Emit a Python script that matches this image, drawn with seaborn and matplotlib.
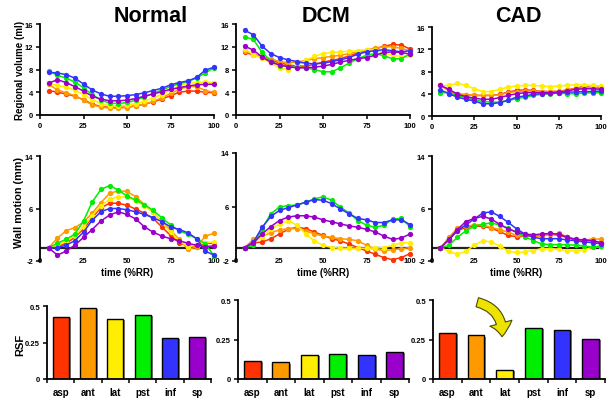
import numpy as np
import pandas as pd
import matplotlib
matplotlib.use('Agg')
import matplotlib.pyplot as plt
import matplotlib.patheffects as pe
import seaborn as sns

sns.set_theme(style='ticks')
plt.rcParams['font.family'] = ['Liberation Sans', 'DejaVu Sans']
plt.rcParams['font.weight'] = 'bold'
plt.rcParams['axes.unicode_minus'] = False
plt.rcParams['text.color'] = 'black'
plt.rcParams['axes.labelcolor'] = 'black'
plt.rcParams['xtick.color'] = 'black'
plt.rcParams['ytick.color'] = 'black'

# 数据
segments = ['asp', 'ant', 'lat', 'pst', 'inf', 'sp']
colors = ['#FF3300', '#FF9900', '#FFEE00', '#00EE00', '#3333FF', '#9900CC']
groups = ['Normal', 'DCM', 'CAD']
time = [5, 10, 15, 20, 25, 30, 35, 40, 45, 50, 55, 60, 65, 70, 75, 80, 85, 90, 95, 100]

# regional volume (ml), order asp, ant, lat, pst, inf, sp
vol_normal = [
    [4.3, 4.0, 3.7, 3.3, 2.7, 1.9, 1.5, 1.35, 1.35, 1.4, 1.6, 1.9, 2.3, 2.8, 3.4, 4.0, 4.2, 4.2, 4.0, 3.9],
    [5.4, 4.4, 3.9, 3.4, 2.6, 1.8, 1.4, 1.2, 1.2, 1.3, 1.6, 1.9, 2.4, 3.0, 3.8, 4.5, 5.0, 5.0, 4.3, 4.0],
    [5.6, 5.2, 4.9, 4.4, 3.6, 2.7, 2.0, 1.6, 1.6, 1.7, 2.0, 2.4, 3.0, 3.6, 4.4, 5.1, 5.6, 5.7, 5.8, 5.7],
    [7.7, 7.0, 6.5, 5.8, 4.8, 3.6, 2.6, 2.1, 2.0, 2.2, 2.6, 3.2, 3.8, 4.4, 5.0, 5.5, 5.9, 6.5, 7.4, 8.3],
    [7.5, 7.4, 7.1, 6.5, 5.45, 4.4, 3.7, 3.3, 3.3, 3.4, 3.6, 3.9, 4.3, 4.7, 5.3, 5.7, 6.0, 6.6, 7.9, 8.4],
    [5.6, 6.2, 5.7, 5.0, 4.2, 3.3, 2.8, 2.5, 2.5, 2.6, 2.9, 3.3, 3.7, 4.1, 4.5, 4.8, 5.1, 5.3, 5.4, 5.4],
]
vol_dcm = [
    [11.0, 10.6, 10.3, 9.6, 9.2, 8.8, 8.6, 8.6, 8.9, 9.3, 9.6, 9.9, 10.4, 10.9, 11.3, 11.6, 12.1, 12.4, 12.3, 11.6],
    [11.3, 10.7, 10.1, 9.9, 9.4, 9.2, 9.3, 9.6, 9.9, 10.1, 10.3, 10.5, 10.8, 11.1, 11.4, 11.8, 12.0, 12.0, 11.7, 11.3],
    [11.6, 10.6, 10.0, 9.1, 8.3, 8.0, 8.7, 9.6, 10.3, 10.8, 11.0, 11.1, 11.2, 11.3, 11.5, 11.4, 10.9, 10.5, 10.3, 10.6],
    [13.7, 13.3, 11.0, 9.5, 8.7, 8.5, 8.4, 8.3, 8.0, 7.6, 7.6, 8.3, 9.1, 9.9, 10.5, 10.8, 10.4, 9.9, 9.9, 10.7],
    [14.9, 14.1, 12.1, 10.8, 10.1, 9.7, 9.4, 9.1, 9.0, 9.1, 9.4, 9.7, 10.1, 10.7, 11.1, 11.3, 11.5, 11.3, 11.1, 11.3],
    [12.1, 11.4, 10.2, 9.3, 8.8, 8.5, 8.3, 8.3, 8.4, 8.6, 8.9, 9.3, 9.6, 9.9, 10.1, 10.5, 11.0, 11.1, 11.0, 10.7],
]
vol_cad = [
    [5.5, 4.6, 4.0, 3.8, 3.7, 3.7, 3.7, 3.9, 4.3, 4.6, 4.7, 4.6, 4.4, 4.4, 4.4, 4.7, 5.0, 5.3, 5.1, 5.2],
    [5.6, 4.5, 4.0, 3.8, 3.7, 3.7, 3.7, 3.8, 4.2, 4.4, 4.5, 4.5, 4.4, 4.4, 4.5, 4.6, 4.9, 5.1, 5.1, 5.0],
    [5.5, 5.5, 5.9, 5.5, 4.9, 4.4, 4.4, 4.8, 5.2, 5.4, 5.5, 5.5, 5.4, 5.3, 5.4, 5.5, 5.6, 5.6, 5.5, 5.4],
    [4.2, 4.2, 3.7, 3.3, 2.9, 2.6, 2.5, 2.5, 2.8, 3.1, 3.4, 3.7, 3.9, 4.0, 4.1, 4.0, 4.0, 4.1, 4.2, 4.2],
    [4.7, 4.0, 3.4, 3.0, 2.7, 2.2, 2.2, 2.4, 2.8, 3.4, 3.6, 3.9, 4.0, 4.1, 4.2, 4.3, 4.3, 4.4, 4.4, 4.5],
    [5.5, 4.8, 3.9, 3.5, 3.2, 3.0, 3.0, 3.3, 3.7, 4.0, 4.2, 4.2, 4.2, 4.2, 4.3, 4.5, 4.8, 4.9, 4.9, 4.8],
]

# wall motion (mm)
wm_normal = [
    [0, 0.2, 0.7, 1.6, 2.9, 4.6, 6.1, 6.8, 6.8, 6.5, 5.9, 5.3, 4.5, 3.2, 1.9, 0.8, 0.3, 0.2, 0.7, 0.7],
    [0, 1.5, 2.6, 3.1, 3.9, 5.3, 6.9, 8.3, 8.7, 8.6, 7.8, 6.6, 5.4, 4.0, 2.7, 1.3, -0.2, 0.1, 1.8, 2.2],
    [0, 0.3, 1.1, 1.8, 3.2, 4.9, 6.4, 7.4, 7.8, 7.7, 7.2, 6.4, 5.4, 3.9, 2.4, 1.1, 0.2, 0.4, 0.8, 0.9],
    [0, 0.7, 1.3, 2.1, 4.1, 7.0, 8.9, 9.5, 8.8, 7.9, 7.3, 6.6, 5.7, 4.6, 3.5, 2.6, 2.1, 1.4, 0.6, -1.2],
    [0, 0.05, 0.4, 1.1, 2.4, 4.2, 5.5, 6.0, 6.0, 5.8, 5.5, 5.1, 4.6, 4.0, 3.2, 2.8, 2.3, 1.4, -0.5, -1.1],
    [0, -1.1, -0.5, 0.4, 1.6, 2.8, 4.1, 5.0, 5.5, 5.1, 4.4, 3.2, 2.4, 1.8, 1.4, 1.1, 0.7, 0.4, 0.2, 0.3],
]
wm_dcm = [
    [0, 0.7, 0.8, 1.3, 2.0, 2.7, 3.0, 2.8, 2.3, 1.8, 1.3, 1.0, 0.5, 0.0, -0.5, -1.0, -1.5, -1.8, -1.5, -0.9],
    [0, 1.2, 1.6, 2.2, 2.6, 2.8, 2.8, 2.5, 2.0, 1.7, 1.5, 1.3, 1.2, 1.0, 0.3, -0.2, -0.5, -0.3, -0.2, 0.0],
    [0, 0.7, 1.5, 2.7, 3.5, 4.0, 3.3, 2.0, 1.0, 0.3, 0.0, -0.1, -0.1, -0.1, -0.1, -0.1, 0.0, 0.3, 0.7, 0.7],
    [0, 0.3, 2.8, 5.0, 6.0, 6.2, 6.3, 6.7, 7.2, 7.5, 7.0, 6.0, 5.1, 4.0, 3.3, 3.0, 3.3, 4.2, 4.3, 3.1],
    [0, 0.8, 3.0, 4.6, 5.5, 5.9, 6.3, 6.7, 7.1, 7.0, 6.5, 5.7, 5.0, 4.3, 4.1, 3.7, 3.7, 4.1, 4.1, 3.4],
    [0, 0.7, 2.0, 3.1, 4.0, 4.5, 4.7, 4.7, 4.5, 4.1, 3.8, 3.5, 3.2, 3.0, 2.7, 2.3, 1.7, 1.2, 1.4, 2.0],
]
wm_cad = [
    [0, 1.3, 2.6, 3.1, 3.3, 3.3, 3.0, 2.5, 1.9, 1.7, 1.8, 1.8, 1.9, 2.1, 1.9, 1.6, 1.2, 1.1, 1.1, 0.8],
    [0, 1.6, 3.0, 3.3, 3.5, 3.5, 3.1, 2.8, 2.4, 1.9, 1.8, 1.8, 1.8, 2.1, 2.2, 1.7, 1.3, 1.1, 1.4, 1.3],
    [0, -0.5, -1.0, -0.5, 0.4, 1.1, 0.9, 0.3, -0.5, -0.7, -0.6, -0.4, -0.1, -0.1, -0.2, -0.4, -0.5, -0.3, 0.1, 0.2],
    [0, 0.4, 1.6, 2.6, 3.3, 3.6, 3.8, 3.5, 3.0, 2.4, 1.7, 1.1, 0.6, 0.5, 0.5, 0.5, 0.4, 0.3, 0.1, 0.3],
    [0, 1.3, 2.6, 3.5, 4.4, 5.3, 5.5, 4.8, 3.9, 2.9, 2.1, 1.6, 1.4, 1.4, 1.4, 1.2, 1.1, 0.9, 0.8, 0.6],
    [0, 1.2, 2.8, 4.0, 4.5, 4.8, 4.4, 3.6, 2.9, 2.4, 2.1, 2.0, 2.1, 2.2, 2.1, 1.6, 1.3, 1.2, 1.1, 0.8],
]

# regional shortening fraction
rsf_normal = [0.427, 0.486, 0.414, 0.441, 0.284, 0.291]
rsf_dcm = [0.112, 0.105, 0.150, 0.160, 0.152, 0.169]
rsf_cad = [0.289, 0.276, 0.055, 0.325, 0.308, 0.255]

W, H = 610, 402
fig = plt.figure(figsize=(W / 100, H / 100), dpi=100)


def px_axes(l, t, r, b):
    return fig.add_axes([l / W, 1 - b / H, (r - l) / W, (b - t) / H])


def long_df(series):
    rows = []
    for seg, vals in zip(segments, series):
        for t, v in zip(time, vals):
            rows.append({'time': t, 'value': v, 'segment': seg})
    return pd.DataFrame(rows)


def style_axis(ax):
    for s in ['top', 'right']:
        ax.spines[s].set_visible(False)
    for s in ['left', 'bottom']:
        ax.spines[s].set_linewidth(1.3)
        ax.spines[s].set_color('black')
    ax.tick_params(axis='both', labelsize=5.5, width=1.1, length=3, color='black',
                   labelcolor='black', pad=2)
    ax.set_xlabel('')
    ax.set_ylabel('')
    ax.set_facecolor('none')
    for lab in ax.get_xticklabels() + ax.get_yticklabels():
        lab.set_fontweight('bold')


line_kw = dict(x='time', y='value', hue='segment', hue_order=segments, palette=colors,
               marker='o', markersize=3.8, markeredgewidth=0, linewidth=1.1,
               legend=False, clip_on=False)

# 第一行: regional volume
vol_rects = [(40, 25, 214, 116), (236, 25, 410, 116), (432, 28, 601, 117)]
for data, rect in zip([vol_normal, vol_dcm, vol_cad], vol_rects):
    ax = px_axes(*rect)
    sns.lineplot(data=long_df(data), ax=ax, **line_kw)
    ax.set_xlim(0, 100)
    ax.set_ylim(0, 16)
    ax.set_xticks([0, 25, 50, 75, 100])
    ax.set_yticks([0, 4, 8, 12, 16])
    style_axis(ax)

# 第二行: wall motion
wm_rects = [(40, 157, 214, 262), (236, 154, 410, 262), (432, 157, 601, 262)]
for data, rect in zip([wm_normal, wm_dcm, wm_cad], wm_rects):
    ax = px_axes(*rect)
    ax.axhline(0, color='#222222', linewidth=1.6, zorder=1)
    sns.lineplot(data=long_df(data), ax=ax, **line_kw)
    ax.set_xlim(0, 100)
    ax.set_ylim(-2, 14)
    ax.set_xticks([0, 25, 50, 75, 100])
    ax.set_yticks([-2, 6, 14])
    style_axis(ax)
    ax.spines['bottom'].set_visible(False)
    ax.tick_params(axis='x', length=0, pad=-3)
    ax.set_xlabel('time (%RR)', fontsize=7, fontweight='bold', labelpad=2, color='black')

# 第三行: RSF bars
rsf_rects = [(47, 307, 211, 380), (238, 301, 409, 380), (433, 301, 605, 380)]
bar_axes = []
for data, rect in zip([rsf_normal, rsf_dcm, rsf_cad], rsf_rects):
    ax = px_axes(*rect)
    sns.barplot(x=segments, y=data, hue=segments, palette=colors, legend=False,
                edgecolor='black', linewidth=1.0, width=0.58, saturation=1, ax=ax)
    for p in ax.patches:
        p.set_path_effects([pe.SimplePatchShadow(offset=(1.5, -0.8), shadow_rgbFace='#777777', alpha=0.9),
                            pe.Normal()])
    ax.set_xlim(-0.5, 5.5)
    ax.set_ylim(0, 0.5)
    ax.set_yticks([0, 0.25, 0.5])
    ax.set_yticklabels(['0', '0.25', '0.5'])
    style_axis(ax)
    ax.set_xticks([-0.5, 0.5, 1.5, 2.5, 3.5, 4.5, 5.5], minor=True)
    ax.tick_params(axis='x', which='major', length=0, labelsize=7, pad=6)
    ax.tick_params(axis='x', which='minor', length=3, width=1.1, color='black')
    for lab in ax.get_xticklabels():
        lab.set_fontweight('bold')
    bar_axes.append(ax)

# CAD 中 lat 的箭头
bar_axes[2].annotate('', xy=(1.9, 0.25), xytext=(0.95, 0.49),
                     arrowprops=dict(arrowstyle='simple,head_length=0.65,head_width=1.1,tail_width=0.45',
                                     connectionstyle='arc3,rad=-0.45', fc='#EEE200', ec='#4A4A00',
                                     lw=0.8, mutation_scale=15))

# 标题和纵轴标签
for name, x in zip(groups, [151, 326, 518]):
    fig.text(x / W, 1 - 16 / H, name, ha='center', va='center', fontsize=15.5,
             fontweight='bold', color='black')

fig.text(20 / W, 1 - 70 / H, 'Regional volume (ml)', rotation=90, ha='center', va='center',
         fontsize=7, fontweight='bold', color='black')
fig.text(19 / W, 1 - 203 / H, 'Wall motion (mm)', rotation=90, ha='center', va='center',
         fontsize=7.8, fontweight='bold', color='black')
fig.text(20 / W, 1 - 345 / H, 'RSF', rotation=90, ha='center', va='center',
         fontsize=8, fontweight='bold', color='black')

fig.savefig('out.png', dpi=100, facecolor='white')
